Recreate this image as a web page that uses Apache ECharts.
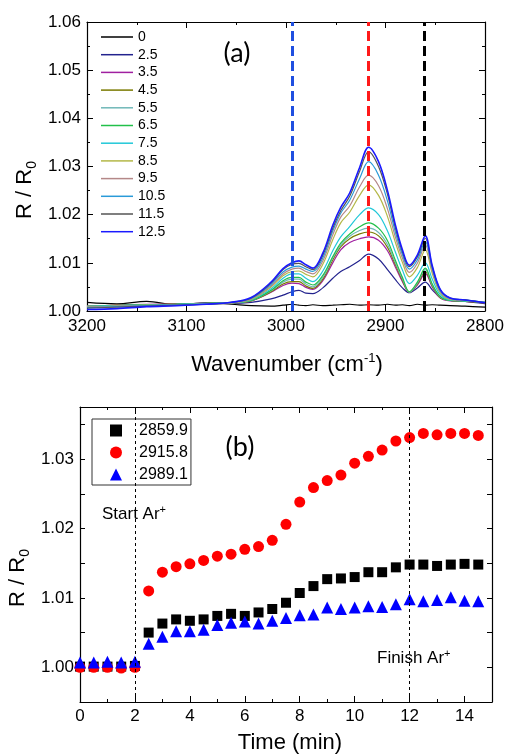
<!DOCTYPE html>
<html>
<head>
<meta charset="utf-8">
<script src="https://cdn.jsdelivr.net/npm/echarts@6/dist/echarts.min.js"></script>
<style>
  html, body { margin: 0; padding: 0; background: #fff; }
  #main { width: 509px; height: 756px; }
</style>
</head>
<body>
<div id="main"></div>
<script>
// ---- panel (a): spectra, R/R0 vs wavenumber ----
const wavenumbers = [3200, 3170, 3140, 3110, 3080, 3055, 3035, 3015, 3003, 2994, 2987, 2980, 2973, 2963, 2953, 2945,
  2936, 2926, 2917, 2907, 2898, 2890, 2883, 2876, 2868, 2860, 2853, 2845, 2835, 2820, 2800]
const specNames = ['0', '2.5', '3.5', '4.5', '5.5', '6.5', '7.5', '8.5', '9.5', '10.5', '11.5', '12.5']
const specColors = ['#000000', '#23238e', '#a020a0', '#7a7a00', '#70b8b8', '#22c04a', '#22c8d8', '#b4b848',
  '#b48888', '#2a9ad8', '#555555', '#1a1aff']

const spec_0 = [1.0018, 1.0015, 1.0020, 1.0013, 1.0017, 1.0014, 1.0011, 1.0010, 1.0012, 1.0014, 1.0012, 1.0011, 1.0013, 1.0011, 1.0012, 1.0013,
  1.0014, 1.0012, 1.0013, 1.0012, 1.0014, 1.0012, 1.0013, 1.0011, 1.0014, 1.0012, 1.0013, 1.0012, 1.0011, 1.0010, 1.0008]
const spec_2_5 = [1.0008, 1.0010, 1.0012, 1.0014, 1.0016, 1.0016, 1.0018, 1.0025, 1.0033, 1.0040, 1.0043, 1.0037, 1.0036, 1.0048, 1.0068, 1.0082,
  1.0092, 1.0105, 1.0118, 1.0108, 1.0086, 1.0065, 1.0048, 1.0038, 1.0048, 1.0060, 1.0044, 1.0028, 1.0022, 1.0020, 1.0015]
const spec_3_5 = [1.0010, 1.0012, 1.0014, 1.0015, 1.0016, 1.0017, 1.0021, 1.0039, 1.0053, 1.0058, 1.0057, 1.0049, 1.0045, 1.0063, 1.0100, 1.0127,
  1.0142, 1.0150, 1.0154, 1.0147, 1.0125, 1.0091, 1.0061, 1.0039, 1.0054, 1.0078, 1.0050, 1.0027, 1.0021, 1.0020, 1.0017]
const spec_4_5 = [1.0010, 1.0012, 1.0013, 1.0015, 1.0016, 1.0017, 1.0021, 1.0040, 1.0056, 1.0061, 1.0061, 1.0052, 1.0047, 1.0066, 1.0106, 1.0133,
  1.0150, 1.0160, 1.0164, 1.0156, 1.0132, 1.0096, 1.0064, 1.0039, 1.0056, 1.0082, 1.0052, 1.0028, 1.0022, 1.0020, 1.0017]
const spec_5_5 = [1.0010, 1.0011, 1.0013, 1.0014, 1.0016, 1.0017, 1.0022, 1.0042, 1.0060, 1.0066, 1.0066, 1.0056, 1.0050, 1.0070, 1.0110, 1.0137,
  1.0155, 1.0167, 1.0172, 1.0163, 1.0138, 1.0100, 1.0067, 1.0039, 1.0058, 1.0086, 1.0054, 1.0029, 1.0022, 1.0021, 1.0018]
const spec_6_5 = [1.0009, 1.0011, 1.0013, 1.0014, 1.0016, 1.0017, 1.0022, 1.0043, 1.0063, 1.0070, 1.0070, 1.0060, 1.0054, 1.0074, 1.0113, 1.0141,
  1.0160, 1.0175, 1.0183, 1.0172, 1.0146, 1.0105, 1.0070, 1.0040, 1.0060, 1.0089, 1.0056, 1.0030, 1.0022, 1.0021, 1.0018]
const spec_7_5 = [1.0009, 1.0011, 1.0012, 1.0014, 1.0015, 1.0017, 1.0023, 1.0046, 1.0068, 1.0077, 1.0077, 1.0068, 1.0061, 1.0083, 1.0125, 1.0154,
  1.0175, 1.0200, 1.0214, 1.0200, 1.0166, 1.0122, 1.0085, 1.0057, 1.0074, 1.0100, 1.0066, 1.0034, 1.0023, 1.0021, 1.0018]
const spec_8_5 = [1.0008, 1.0010, 1.0012, 1.0013, 1.0015, 1.0017, 1.0024, 1.0050, 1.0073, 1.0082, 1.0083, 1.0076, 1.0071, 1.0097, 1.0148, 1.0183,
  1.0205, 1.0240, 1.0262, 1.0240, 1.0196, 1.0142, 1.0101, 1.0071, 1.0090, 1.0127, 1.0078, 1.0038, 1.0024, 1.0022, 1.0018]
const spec_9_5 = [1.0008, 1.0010, 1.0011, 1.0012, 1.0015, 1.0017, 1.0025, 1.0052, 1.0077, 1.0087, 1.0089, 1.0082, 1.0077, 1.0104, 1.0158, 1.0195,
  1.0218, 1.0258, 1.0282, 1.0260, 1.0212, 1.0153, 1.0110, 1.0080, 1.0099, 1.0137, 1.0083, 1.0040, 1.0025, 1.0022, 1.0018]
const spec_10_5 = [1.0007, 1.0009, 1.0011, 1.0013, 1.0015, 1.0018, 1.0026, 1.0055, 1.0081, 1.0091, 1.0093, 1.0087, 1.0082, 1.0110, 1.0166, 1.0203,
  1.0230, 1.0275, 1.0310, 1.0282, 1.0228, 1.0163, 1.0117, 1.0087, 1.0106, 1.0144, 1.0088, 1.0042, 1.0026, 1.0023, 1.0018]
const spec_11_5 = [1.0006, 1.0008, 1.0010, 1.0012, 1.0014, 1.0018, 1.0027, 1.0058, 1.0086, 1.0097, 1.0099, 1.0092, 1.0086, 1.0116, 1.0172, 1.0208,
  1.0238, 1.0290, 1.0331, 1.0300, 1.0242, 1.0172, 1.0123, 1.0092, 1.0112, 1.0151, 1.0092, 1.0044, 1.0027, 1.0023, 1.0017]
const spec_12_5 = [1.0003, 1.0005, 1.0009, 1.0011, 1.0014, 1.0018, 1.0028, 1.0060, 1.0088, 1.0100, 1.0104, 1.0096, 1.0089, 1.0120, 1.0178, 1.0215,
  1.0245, 1.0298, 1.0340, 1.0310, 1.0250, 1.0178, 1.0127, 1.0095, 1.0116, 1.0156, 1.0094, 1.0045, 1.0027, 1.0023, 1.0017]
const spectra = [spec_0, spec_2_5, spec_3_5, spec_4_5, spec_5_5, spec_6_5, spec_7_5, spec_8_5, spec_9_5, spec_10_5, spec_11_5, spec_12_5]

// dashed marker lines in (a)
const markWn = [2994, 2917, 2861]
const markColors = ['#1f4fe0', '#ff1a1a', '#000000']

// ---- panel (b): R/R0 at three wavenumbers vs time ----
const times = [0, 0.5, 1, 1.5, 2, 2.5, 3, 3.5, 4, 4.5, 5, 5.5, 6, 6.5, 7, 7.5, 8, 8.5, 9, 9.5, 10, 10.5, 11, 11.5, 12, 12.5, 13, 13.5, 14, 14.5]
const peak2859 = [1.0001, 1.0001, 1.0001, 1.0001, 1.0002, 1.0050, 1.0063, 1.0069, 1.0067, 1.0069, 1.0074, 1.0077, 1.0074, 1.0079, 1.0084,
  1.0093, 1.0107, 1.0117, 1.0127, 1.0128, 1.0130, 1.0137, 1.0137, 1.0144, 1.0148, 1.0148, 1.0146, 1.0148, 1.0149, 1.0148]
const peak2915 = [1.0000, 1.0000, 1.0000, 0.9999, 1.0000, 1.0110, 1.0137, 1.0145, 1.0149, 1.0154, 1.0160, 1.0163, 1.0170, 1.0174, 1.0183,
  1.0206, 1.0238, 1.0259, 1.0269, 1.0277, 1.0294, 1.0304, 1.0313, 1.0326, 1.0331, 1.0337, 1.0335, 1.0337, 1.0337, 1.0334]
const peak2989 = [1.0007, 1.0007, 1.0008, 1.0007, 1.0008, 1.0034, 1.0044, 1.0052, 1.0052, 1.0054, 1.0061, 1.0064, 1.0066, 1.0063, 1.0067,
  1.0071, 1.0075, 1.0076, 1.0086, 1.0084, 1.0086, 1.0088, 1.0087, 1.0091, 1.0098, 1.0095, 1.0097, 1.0101, 1.0096, 1.0095]
const peakNames = ['2859.9', '2915.8', '2989.1']
const arTimes = [2, 12]

const FONT = 'Liberation Sans'
const myChart = echarts.init(document.getElementById('main'))

function axisBase(extra) {
  return Object.assign({
    type: 'value',
    axisLine: { onZero: false, lineStyle: { color: '#000', width: 1.2 } },
    axisTick: { inside: true, length: 6, lineStyle: { color: '#000' } },
    minorTick: { show: true, splitNumber: 2, length: 3, lineStyle: { color: '#000' } },
    splitLine: { show: false },
    axisLabel: { fontSize: 17, color: '#000', fontFamily: FONT, margin: 7 },
  }, extra)
}
const noLabel = { show: false }

let series = []
spectra.forEach((vals, i) => {
  series.push({
    name: specNames[i],
    type: 'line',
    xAxisIndex: 0,
    yAxisIndex: 0,
    smooth: 0.35,
    symbol: 'none',
    lineStyle: { color: specColors[i], width: i == 11 ? 1.6 : 1.2 },
    itemStyle: { color: specColors[i] },
    data: wavenumbers.map((w, k) => [w, vals[k]]),
  })
})
// dashed lines on top of the spectra
series[11].markLine = {
  silent: true,
  symbol: ['none', 'none'],
  label: { show: false },
  data: markWn.map((w, i) => ({ xAxis: w, lineStyle: { color: markColors[i], type: [10, 5], width: 3 } })),
}

const peakData = [peak2859, peak2915, peak2989]
const peakSymbols = ['rect', 'circle', 'triangle']
const peakSizes = [10, 11, 12]
const peakColors = ['#000000', '#ff0000', '#0000ff']
peakData.forEach((vals, i) => {
  series.push({
    name: peakNames[i],
    type: 'scatter',
    xAxisIndex: 2,
    yAxisIndex: 2,
    symbol: peakSymbols[i],
    symbolSize: peakSizes[i],
    itemStyle: { color: peakColors[i], opacity: 1 },
    data: times.map((t, k) => [t, vals[k]]),
  })
})
series[12].markLine = {
  silent: true,
  symbol: ['none', 'none'],
  label: { show: false },
  lineStyle: { color: '#000', type: [3, 3], width: 1 },
  data: arTimes.map((t) => ({ xAxis: t })),
}

const option = {
  animation: false,
  backgroundColor: '#fff',
  grid: [
    { left: 87, top: 22, width: 398, height: 289 },
    { left: 80, top: 407, width: 412, height: 295 },
  ],
  xAxis: [
    axisBase({ gridIndex: 0, min: 2800, max: 3200, interval: 100, inverse: true,
      axisLabel: { fontSize: 17, color: '#000', fontFamily: FONT, margin: 7, formatter: (v) => String(v) } }),
    axisBase({ gridIndex: 0, min: 2800, max: 3200, interval: 100, inverse: true, position: 'top', axisLabel: noLabel }),
    axisBase({ gridIndex: 1, min: 0, max: 15, interval: 2, axisLabel: { fontSize: 17, color: '#000', fontFamily: FONT, margin: 6, showMaxLabel: false } }),
    axisBase({ gridIndex: 1, min: 0, max: 15, interval: 2, position: 'top', axisLabel: noLabel }),
  ],
  yAxis: [
    axisBase({ gridIndex: 0, min: 1, max: 1.06, interval: 0.01,
      axisLabel: { fontSize: 17, color: '#000', fontFamily: FONT, margin: 6, formatter: (v) => v.toFixed(2) } }),
    axisBase({ gridIndex: 0, min: 1, max: 1.06, interval: 0.01, position: 'right', axisLabel: noLabel }),
    axisBase({ gridIndex: 1, min: 0.995, max: 1.0375, interval: 0.005, minorTick: { show: false },
      axisTick: { inside: true, length: 5, lineStyle: { color: '#000' } },
      axisLabel: { fontSize: 17, color: '#000', fontFamily: FONT, margin: 6, showMaxLabel: false,
        formatter: (v) => (Math.round(v * 1000) % 10 === 0 ? v.toFixed(2) : '') } }),
    axisBase({ gridIndex: 1, min: 0.995, max: 1.0375, interval: 0.005, position: 'right', minorTick: { show: false },
      axisTick: { inside: true, length: 5, lineStyle: { color: '#000' } }, axisLabel: noLabel }),
  ],
  legend: [
    {
      data: specNames,
      orient: 'vertical',
      left: 101,
      top: 30,
      padding: 0,
      icon: 'path://M0,0H32V1.5H0Z',
      itemWidth: 32,
      itemHeight: 14,
      itemGap: 3.7,
      selectedMode: false,
      textStyle: { fontSize: 14, color: '#000', fontFamily: FONT, lineHeight: 14 },
    },
    {
      data: peakNames,
      orient: 'vertical',
      left: 92,
      top: 419,
      padding: [3, 3, 2, 18],
      itemWidth: 12,
      itemHeight: 12,
      itemGap: 5,
      borderColor: '#333',
      borderWidth: 1,
      selectedMode: false,
      textStyle: { fontSize: 16, color: '#000', fontFamily: FONT, lineHeight: 17, padding: [0, 0, 0, 12] },
    },
  ],
  graphic: [
    { type: 'text', x: 237, y: 53, style: { text: '(a)', font: '27px Lato', fill: '#000', align: 'center', verticalAlign: 'middle' } },
    { type: 'text', x: 240, y: 447, style: { text: '(b)', font: '27px Lato', fill: '#000', align: 'center', verticalAlign: 'middle' } },
    {
      type: 'text', x: 287, y: 365,
      style: {
        text: '{m|Wavenumber (cm}{s|-1}{m|)}', align: 'center', verticalAlign: 'middle',
        rich: {
          m: { fontSize: 22, fontFamily: FONT, color: '#000', lineHeight: 26 },
          s: { fontSize: 13, fontFamily: FONT, color: '#000', lineHeight: 13, verticalAlign: 'top' },
        },
      },
    },
    {
      type: 'text', x: 290, y: 743,
      style: { text: 'Time (min)', font: '22px ' + FONT, fill: '#000', align: 'center', verticalAlign: 'middle' },
    },
    {
      type: 'text', x: 25, y: 190, rotation: Math.PI / 2,
      style: {
        text: '{m|R / R}{s|0}', align: 'center', verticalAlign: 'middle',
        rich: {
          m: { fontSize: 22, fontFamily: FONT, color: '#000', lineHeight: 28 },
          s: { fontSize: 14, fontFamily: FONT, color: '#000', lineHeight: 14, verticalAlign: 'bottom' },
        },
      },
    },
    {
      type: 'text', x: 18, y: 578, rotation: Math.PI / 2,
      style: {
        text: '{m|R / R}{s|0}', align: 'center', verticalAlign: 'middle',
        rich: {
          m: { fontSize: 22, fontFamily: FONT, color: '#000', lineHeight: 28 },
          s: { fontSize: 14, fontFamily: FONT, color: '#000', lineHeight: 14, verticalAlign: 'bottom' },
        },
      },
    },
    {
      type: 'text', x: 102, y: 514,
      style: {
        text: '{m|Start Ar}{s|+}', align: 'left', verticalAlign: 'middle',
        rich: {
          m: { fontSize: 17, fontFamily: FONT, color: '#000', lineHeight: 20 },
          s: { fontSize: 11, fontFamily: FONT, color: '#000', lineHeight: 11, verticalAlign: 'top' },
        },
      },
    },
    {
      type: 'text', x: 377, y: 658,
      style: {
        text: '{m|Finish Ar}{s|+}', align: 'left', verticalAlign: 'middle',
        rich: {
          m: { fontSize: 17, fontFamily: FONT, color: '#000', lineHeight: 20 },
          s: { fontSize: 11, fontFamily: FONT, color: '#000', lineHeight: 11, verticalAlign: 'top' },
        },
      },
    },
  ],
  series: series,
}
myChart.setOption(option)
</script>
</body>
</html>
